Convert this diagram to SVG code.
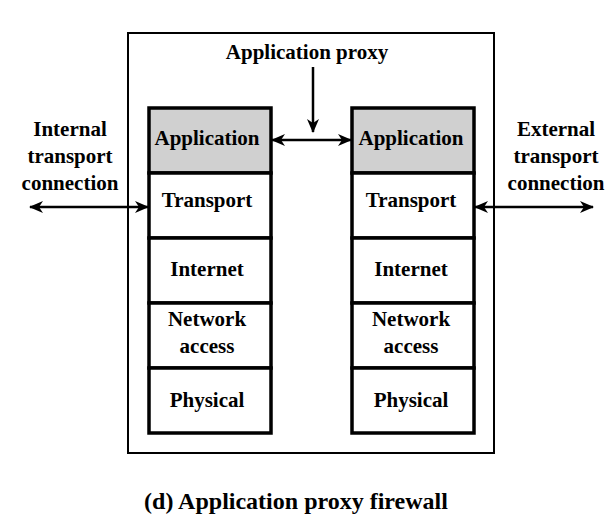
<svg xmlns="http://www.w3.org/2000/svg" width="615" height="525" viewBox="0 0 615 525">
<style>
text{font-weight:700;font-size:21px;fill:#000;text-anchor:middle}
.cap{font-size:24px}
.layer{fill:#fff;stroke:#000;stroke-width:3.5}
.app{fill:#d0d0d0;stroke:#000;stroke-width:3.5}
.conn{stroke:#000;stroke-width:2.5;fill:none}
</style>
<defs>
<marker id="ah" viewBox="0 0 14 12" refX="13" refY="6" markerWidth="14" markerHeight="12" markerUnits="userSpaceOnUse" orient="auto-start-reverse">
<path d="M0,0 L14,6 L0,12 L4,6 Z" fill="#000"/>
</marker>
</defs>
<rect width="615" height="525" fill="#fff"/>
<g id="firewall">
<rect x="128" y="33" width="366" height="420" fill="none" stroke="#000" stroke-width="2"/>
<text x="307" y="59" font-family="Liberation Serif">Application proxy</text>
</g>
<g id="left-stack">
<rect class="app" x="149" y="108" width="122" height="65"/>
<text x="207" y="145" font-family="Liberation Serif">Application</text>
<rect class="layer" x="149" y="173" width="122" height="65"/>
<text x="207" y="207" font-family="Liberation Serif">Transport</text>
<rect class="layer" x="149" y="238" width="122" height="65"/>
<text x="207" y="276" font-family="Liberation Serif">Internet</text>
<rect class="layer" x="149" y="303" width="122" height="65"/>
<text x="207" y="326" font-family="Liberation Serif">Network</text>
<text x="207" y="353" font-family="Liberation Serif">access</text>
<rect class="layer" x="149" y="368" width="122" height="65"/>
<text x="207" y="407" font-family="Liberation Serif">Physical</text>
</g>
<g id="right-stack">
<rect class="app" x="352" y="108" width="122" height="65"/>
<text x="411" y="145" font-family="Liberation Serif">Application</text>
<rect class="layer" x="352" y="173" width="122" height="65"/>
<text x="411" y="207" font-family="Liberation Serif">Transport</text>
<rect class="layer" x="352" y="238" width="122" height="65"/>
<text x="411" y="276" font-family="Liberation Serif">Internet</text>
<rect class="layer" x="352" y="303" width="122" height="65"/>
<text x="411" y="326" font-family="Liberation Serif">Network</text>
<text x="411" y="353" font-family="Liberation Serif">access</text>
<rect class="layer" x="352" y="368" width="122" height="65"/>
<text x="411" y="407" font-family="Liberation Serif">Physical</text>
</g>
<g id="internal-label">
<text x="70" y="136" font-family="Liberation Serif">Internal</text>
<text x="70" y="163" font-family="Liberation Serif">transport</text>
<text x="70" y="190" font-family="Liberation Serif">connection</text>
</g>
<g id="external-label">
<text x="556" y="136" font-family="Liberation Serif">External</text>
<text x="556" y="163" font-family="Liberation Serif">transport</text>
<text x="556" y="190" font-family="Liberation Serif">connection</text>
</g>
<g id="connectors">
<line class="conn" x1="313" y1="67" x2="313" y2="132" marker-end="url(#ah)"/>
<line class="conn" x1="272" y1="140" x2="351" y2="140" marker-start="url(#ah)" marker-end="url(#ah)"/>
<line class="conn" x1="30" y1="207" x2="148" y2="207" marker-start="url(#ah)" marker-end="url(#ah)"/>
<line class="conn" x1="475" y1="207" x2="593" y2="207" marker-start="url(#ah)" marker-end="url(#ah)"/>
</g>
<text class="cap" x="296" y="509" font-family="Liberation Serif">(d) Application proxy firewall</text>
</svg>
